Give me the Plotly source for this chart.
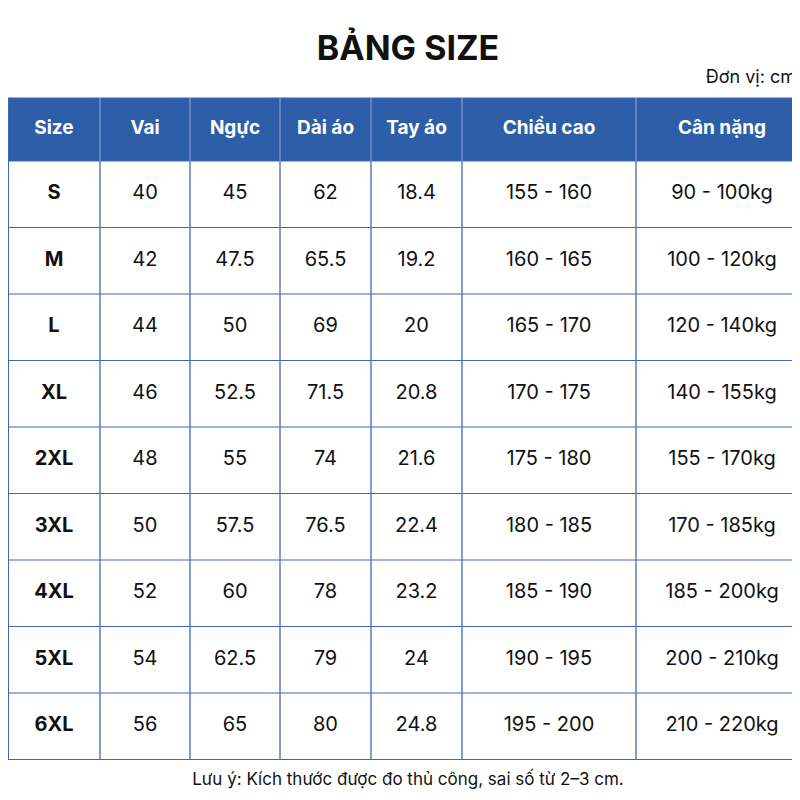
import plotly.graph_objects as go

headers = ["Size", "Vai", "Ngực", "Dài áo", "Tay áo", "Chiều cao", "Cân nặng"]
sizes = ["S", "M", "L", "XL", "2XL", "3XL", "4XL", "5XL", "6XL"]
vai = ["40", "42", "44", "46", "48", "50", "52", "54", "56"]
nguc = ["45", "47.5", "50", "52.5", "55", "57.5", "60", "62.5", "65"]
dai_ao = ["62", "65.5", "69", "71.5", "74", "76.5", "78", "79", "80"]
tay_ao = ["18.4", "19.2", "20", "20.8", "21.6", "22.4", "23.2", "24", "24.8"]
chieu_cao = ["155 - 160", "160 - 165", "165 - 170", "170 - 175", "175 - 180",
             "180 - 185", "185 - 190", "190 - 195", "195 - 200"]
can_nang = ["90 - 100kg", "100 - 120kg", "120 - 140kg", "140 - 155kg", "155 - 170kg",
            "170 - 185kg", "185 - 200kg", "200 - 210kg", "210 - 220kg"]

col_widths = [92, 90, 90, 91, 91, 174, 172]
line_c = "#3d66b3"
head_c = "#2f5ea8"
FONT = "Inter"
top, head_h, row_h = 90, 63, 66.5

edges = [0]
for w in col_widths:
    edges.append(edges[-1] + w)
centers = [(edges[i] + edges[i + 1]) / 2 for i in range(len(col_widths))]
bottom = top + head_h + row_h * len(sizes)

columns = [[f"<b>{s}</b>" for s in sizes], vai, nguc, dai_ao, tay_ao, chieu_cao, can_nang]

fig = go.Figure()
# header
fig.add_shape(type="rect", x0=0, x1=800, y0=top, y1=top + head_h, fillcolor=head_c, line_width=0, layer="below")
fig.add_trace(go.Scatter(x=centers, y=[top + head_h / 2] * len(headers), mode="text",
                         text=[f"<b>{h}</b>" for h in headers], textposition="middle center",
                         textfont=dict(family=FONT, size=19, color="white"), hoverinfo="skip"))
# cells
for ci, col in enumerate(columns):
    fig.add_trace(go.Scatter(x=[centers[ci]] * len(col),
                             y=[top + head_h + row_h * (i + 0.5) for i in range(len(col))],
                             mode="text", text=col, textposition="middle center",
                             textfont=dict(family=FONT, size=20, color="#111111"), hoverinfo="skip"))
# grid
for i in range(len(sizes) + 1):
    y = top + head_h + row_h * i
    fig.add_shape(type="line", x0=0, x1=800, y0=y, y1=y, line=dict(color=line_c, width=1))
fig.add_shape(type="line", x0=0, x1=800, y0=top, y1=top, line=dict(color=line_c, width=1))
for i, x in enumerate(edges):
    xx = min(max(x, 0.5), 799.5)
    fig.add_shape(type="line", x0=xx, x1=xx, y0=top, y1=bottom,
                  line=dict(color="#8fa9d8" if 0 < i < len(edges) - 1 else line_c, width=1))
    if 0 < i < len(edges) - 1:
        fig.add_shape(type="line", x0=xx, x1=xx, y0=top + head_h, y1=bottom, line=dict(color=line_c, width=1))

fig.add_trace(go.Scatter(x=[400], y=[43], mode="text", text=["<b>BẢNG SIZE</b>"],
                         textfont=dict(family=FONT, size=34, color="#111111"), hoverinfo="skip"))
fig.add_trace(go.Scatter(x=[788], y=[70], mode="text", text=["Đơn vị: cm"], textposition="middle left",
                         textfont=dict(family=FONT, size=18, color="#111111"), hoverinfo="skip"))
fig.add_trace(go.Scatter(x=[400], y=[773], mode="text",
                         text=["Lưu ý: Kích thước được đo thủ công, sai số từ 2–3 cm."],
                         textfont=dict(family=FONT, size=17, color="#111111"), hoverinfo="skip"))

fig.update_xaxes(range=[0, 800], visible=False, fixedrange=True)
fig.update_yaxes(range=[800, 0], visible=False, fixedrange=True)
fig.update_layout(width=800, height=800, margin=dict(l=0, r=0, t=0, b=0), showlegend=False,
                  paper_bgcolor="white", plot_bgcolor="white")
fig.write_html("out.html")
